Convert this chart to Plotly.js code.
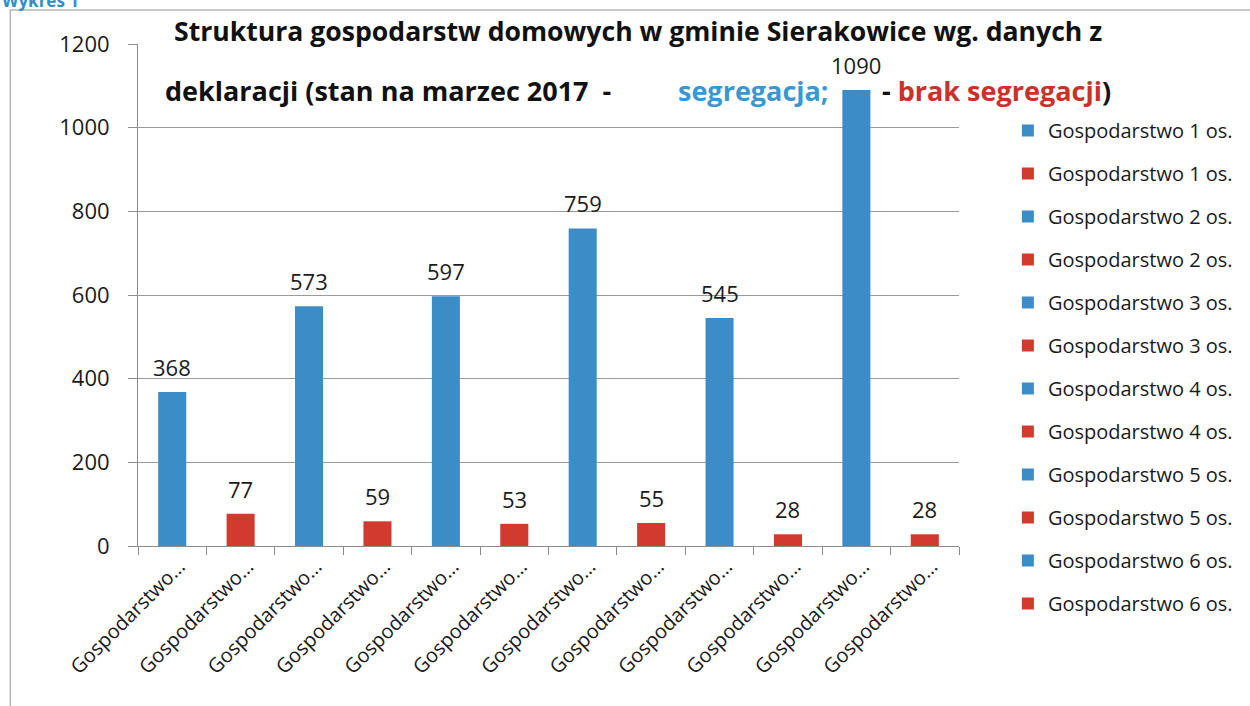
<!DOCTYPE html>
<html>
<head>
<meta charset="utf-8">
<script src="https://cdn.plot.ly/plotly-3.0.1.min.js"></script>
<style>html,body{margin:0;padding:0;background:#fff;}#chart{width:1250px;height:706px;}</style>
</head>
<body>
<div id="chart"></div>
<script>
// ---- data ----
const seriesNames = [
  "Gospodarstwo 1 os.", "Gospodarstwo 1 os.",
  "Gospodarstwo 2 os.", "Gospodarstwo 2 os.",
  "Gospodarstwo 3 os.", "Gospodarstwo 3 os.",
  "Gospodarstwo 4 os.", "Gospodarstwo 4 os.",
  "Gospodarstwo 5 os.", "Gospodarstwo 5 os.",
  "Gospodarstwo 6 os.", "Gospodarstwo 6 os."
];
const groups = ["segregacja", "brak", "segregacja", "brak", "segregacja", "brak",
                "segregacja", "brak", "segregacja", "brak", "segregacja", "brak"];
const values = [368, 77, 573, 59, 597, 53, 759, 55, 545, 28, 1090, 28];
const tickLabels = Array(12).fill("Gospodarstwo…");
const yTicks = [0, 200, 400, 600, 800, 1000, 1200];

// ---- styles ----
const colors = { segregacja: "#3c8cc8", brak: "#d23a2e" };
const FONT = "'Open Sans', 'Noto Sans', sans-serif";

const idx = values.map((_, i) => i);

const traces = values.map((v, i) => ({
  type: "bar",
  x: [i],
  y: [v],
  name: seriesNames[i],
  legendgroup: "g" + i,
  width: 0.41,
  marker: { color: colors[groups[i]] },
  hoverinfo: "name+y"
}));

const labelAnns = values.map((v, i) => ({
  x: i, y: v, xref: "x", yref: "y",
  text: String(v), showarrow: false,
  yanchor: "middle", yshift: 25,
  font: { family: FONT, size: 22, color: "#1a1a1a" }
}));

// pixel helpers for paper coords (plot area 138..961 x, 44..546 y)
const L = 138, R = 961, T = 44, B = 546;
const px = p => (p - L) / (R - L);
const py = p => (B - p) / (B - T);

const titleAnns = [
  { text: "<b>Struktura gospodarstw domowych w gminie Sierakowice wg. danych z</b>",
    x: px(639), y: py(31), xanchor: "center", yanchor: "middle", size: 26.6 },
  { text: "<b>deklaracji (stan na marzec 2017  -</b>",
    x: px(163), y: py(90), xanchor: "left", yanchor: "middle", size: 27 },
  { text: "<b><span style='color:#3c97d0'>segregacja;</span></b>",
    x: px(677), y: py(90), xanchor: "left", yanchor: "middle", size: 27 },
  { text: "<b>- <span style='color:#c8322a'>brak segregacji</span>)</b>",
    x: px(882), y: py(90), xanchor: "left", yanchor: "middle", size: 27 }
].map(a => {
  const s = a.size; delete a.size;
  return Object.assign({ xref: "paper", yref: "paper", showarrow: false,
    font: { family: FONT, size: s, color: "#111" } }, a);
});

const wykres = {
  text: "<b>Wykres 1</b>", xref: "paper", yref: "paper",
  x: px(0), y: py(0), xanchor: "left", yanchor: "middle", showarrow: false,
  font: { family: FONT, size: 17, color: "#2f8fce" }
};

const layout = {
  width: 1250, height: 706,
  margin: { l: L, r: 1250 - R, t: T, b: 706 - B, pad: 0 },
  paper_bgcolor: "#fff", plot_bgcolor: "#fff",
  barmode: "overlay",
  showlegend: true,
  font: { family: FONT, color: "#1a1a1a" },
  xaxis: {
    range: [-0.5, 11.5],
    tickmode: "array", tickvals: idx, ticktext: tickLabels,
    tickangle: -45, ticks: "", showgrid: false, zeroline: false,
    showline: true, linecolor: "#8c8c8c", linewidth: 1,
    tickfont: { family: FONT, size: 20, color: "#1a1a1a" },
    ticklabelshift: 7,
    minor: { tickmode: "array", tickvals: idx.concat([12]).map(i => i - 0.5),
             ticks: "outside", ticklen: 8, tickcolor: "#8c8c8c", tickwidth: 1, showgrid: false },
    fixedrange: true
  },
  yaxis: {
    range: [0, 1200], tickmode: "array", tickvals: yTicks,
    ticks: "outside", ticklen: 9, tickcolor: "#8c8c8c",
    showline: true, linecolor: "#8c8c8c", linewidth: 1,
    showgrid: true, gridcolor: "#9a9a9a", gridwidth: 1, zeroline: false,
    tickfont: { family: FONT, size: 22, color: "#1a1a1a" },
    ticklabelstandoff: 14,
    fixedrange: true
  },
  legend: {
    x: px(1010), y: py(111), xanchor: "left", yanchor: "top",
    traceorder: "grouped", tracegroupgap: 14,
    maxheight: 680,
    font: { family: FONT, size: 20, color: "#1a1a1a" },
    bgcolor: "rgba(0,0,0,0)"
  },
  shapes: [{
    type: "rect", xref: "paper", yref: "paper",
    x0: px(10), x1: px(1300), y0: py(760), y1: py(10),
    line: { color: "#b5b5b5", width: 1.5 }, fillcolor: "rgba(0,0,0,0)", layer: "below"
  }],
  annotations: labelAnns.concat(titleAnns, [wykres])
};

Plotly.newPlot("chart", traces, layout, { displayModeBar: false, staticPlot: true });
</script>
</body>
</html>
